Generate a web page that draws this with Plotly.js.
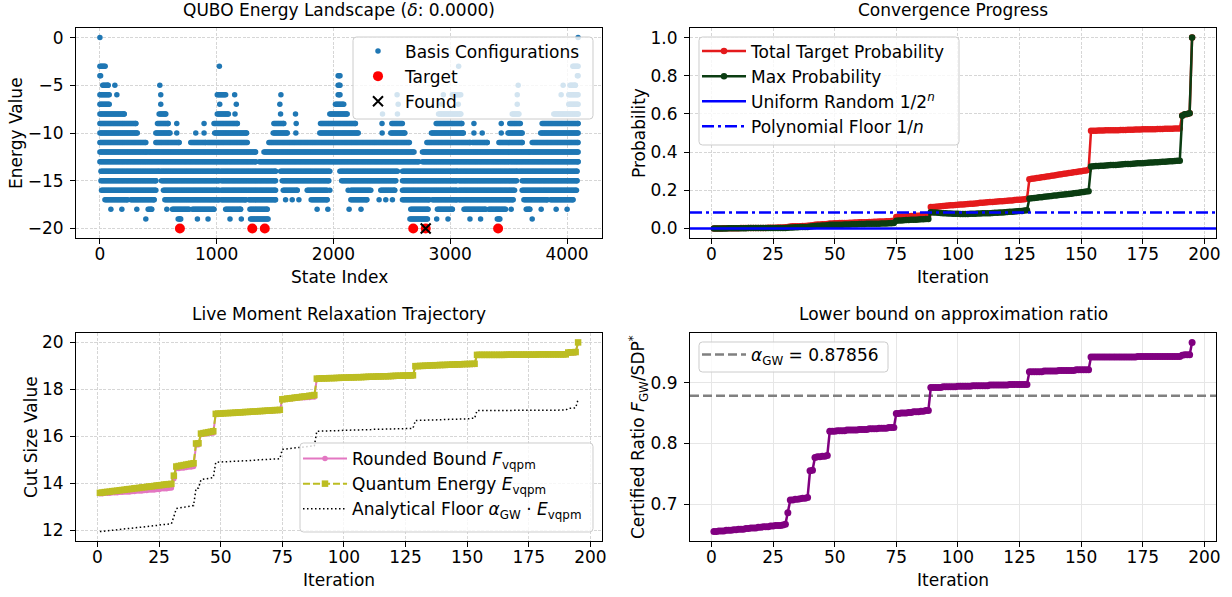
<!DOCTYPE html>
<html><head><meta charset="utf-8">
<script src="https://cdn.plot.ly/plotly-3.0.1.min.js"></script>
<style>html,body{margin:0;padding:0;background:#fff;} #chart{width:1232px;height:597px;}</style>
</head><body><div id="chart"></div>
<script>
// ---------- Panel 1: QUBO energy landscape (index ranges read per energy level) ----------
const lvl0  = [0,0, 4095,4095];
const lvl3  = [0,45, 1023,1023, 3072,3072, 4050,4095];
const lvl4  = [0,6, 2040,2056, 4089,4095];
const lvl5  = [24,70, 128,128, 513,513, 2040,2056, 3582,3582, 3967,3967, 4025,4071];
const lvl6  = [0,80, 145,145, 521,521, 1005,1077, 1154,1154, 1550,1550, 2040,2056, 2545,2545, 2941,2941, 3018,3090, 3574,3574, 3950,3950, 4015,4095];
const lvl7  = [0,80, 521,521, 1026,1026, 1168,1168, 1541,1541, 2017,2088, 2554,2554, 2927,2927, 3069,3069, 3574,3574, 4015,4095];
const lvl8  = [0,208, 507,564, 1005,1100, 1157,1157, 1547,1547, 1675,1675, 1969,2117, 2420,2420, 2548,2548, 2900,3090, 3531,3588, 3887,4095];
const lvl9  = [0,308, 493,584, 658,658, 892,892, 977,1177, 1490,1575, 1681,1681, 1889,2188, 2416,2416, 2500,2590, 2880,3100, 3203,3203, 3437,3437, 3510,3600, 3787,4095];
const lvl10 = [0,320, 479,600, 658,658, 821,821, 892,892, 983,1256, 1484,1604, 1678,1678, 1883,2212, 2417,2417, 2491,2611, 2839,3112, 3203,3203, 3274,3274, 3437,3437, 3495,3616, 3775,4095];
const lvl11 = [0,393, 479,678, 778,906, 920,1262, 1447,2650, 2800,3170, 3190,3317, 3417,3616, 3702,4095];
const lvl12 = [0,400, 413,1333, 1405,2690, 2762,3682, 3695,4095];
const lvl13 = [0,1333, 1365,2730, 2762,4095];
const lvl14 = [9,507, 521,1020, 1034,1504, 1547,1969, 2055,2548, 2591,3061, 3075,3574, 3588,4086];
const lvl15 = [9,479, 527,1020, 1040,1504, 1561,1960, 2070,2534, 2591,3055, 3075,3568, 3616,4086];
const lvl16 = [14,479, 544,1020, 1040,1504, 1570,1690, 1775,1946, 1969,1969, 2126,2126, 2149,2320, 2405,2525, 2591,3055, 3075,3551, 3616,4081];
const lvl17 = [43,236, 265,464, 556,1020, 1040,1248, 1276,1504, 1590,1590, 1647,1647, 1704,1704, 1809,1946, 2149,2286, 2391,2391, 2448,2448, 2505,2505, 2591,2819, 2847,3055, 3075,3539, 3631,3830, 3859,4052];
const lvl18 = [94,94, 188,188, 316,316, 413,444, 573,573, 621,764, 792,977, 1077,1205, 1285,1433, 1860,1860, 1952,1952, 2134,2134, 2236,2236, 2662,2810, 2890,3018, 3118,3303, 3331,3474, 3522,3522, 3651,3682, 3779,3779, 3907,3907, 4001,4001];
const lvl19 = [393,393, 670,692, 835,835, 926,926, 1114,1114, 1211,1211, 1290,1440, 2655,2805, 2884,2884, 2981,2981, 3169,3169, 3260,3260, 3403,3425, 3702,3702];
const energyLevels = [0,-3,-4,-5,-6,-7,-8,-9,-10,-11,-12,-13,-14,-15,-16,-17,-18,-19];
const targetIdx = [685, 1305, 1412, 2683, 2790, 3410];
const targetEnergy = [-20, -20, -20, -20, -20, -20];
const foundIdx = [2790];
const foundEnergy = [-20];

// ---------- Per-iteration series (iterations 1..195) ----------
const certifiedRatio = [
0.655,0.655,0.656,0.656,0.656,0.657,0.657,0.657,0.658,0.658,0.659,0.659,0.659,0.660,0.660,0.661,0.661,0.661,0.662,0.662,0.663,0.663,0.663,0.664,0.664,0.665,0.665,0.665,0.666,0.667,
0.686,
0.707,0.707,0.708,0.708,0.709,0.710,0.710,0.711,
0.755,0.756,
0.777,0.778,0.778,0.779,0.779,0.780,
0.820,0.820,0.820,0.821,0.821,0.821,0.821,0.822,0.822,0.822,0.822,0.822,0.823,0.823,0.823,0.823,0.824,0.824,0.824,0.824,0.825,0.825,0.825,0.825,0.826,0.826,0.826,
0.849,0.849,0.850,0.850,0.850,0.851,0.851,0.852,0.852,0.852,0.853,0.853,0.854,0.854,
0.892,0.892,0.892,0.892,0.892,0.893,0.893,0.893,0.893,0.893,0.893,0.894,0.894,0.894,0.894,0.894,0.894,0.895,0.895,0.895,0.895,0.895,0.895,0.895,0.896,0.896,0.896,0.896,0.896,0.896,0.896,0.896,0.897,0.897,0.897,0.897,0.897,0.897,0.897,0.897,
0.918,0.918,0.918,0.918,0.918,0.918,0.919,0.919,0.919,0.919,0.919,0.919,0.920,0.920,0.920,0.920,0.920,0.920,0.920,0.921,0.921,0.921,0.921,0.921,0.921,
0.942,0.942,0.942,0.942,0.942,0.942,0.942,0.942,0.942,0.942,0.942,0.942,0.942,0.942,0.942,0.942,0.942,0.942,0.942,0.943,0.943,0.943,0.943,0.943,0.943,0.943,0.943,0.943,0.943,0.943,0.943,0.943,0.943,0.943,0.943,0.943,0.943,
0.945,0.946,0.946,0.946,
0.966];

const roundedBound = [
13.56,13.56,13.58,13.58,13.58,13.60,13.60,13.60,13.62,13.62,13.64,13.64,13.64,13.66,13.66,13.68,13.68,13.68,13.70,13.70,13.72,13.72,13.72,13.74,13.74,13.77,13.77,13.77,13.79,13.81,
14.20,
14.63,14.63,14.66,14.66,14.68,14.70,14.70,14.72,
15.63,15.65,
16.08,16.10,16.10,16.13,16.13,16.15,
16.97,16.97,16.97,16.99,16.99,16.99,16.99,17.02,17.02,17.02,17.02,17.02,17.04,17.04,17.04,17.04,17.06,17.06,17.06,17.06,17.08,17.08,17.08,17.08,17.10,17.10,17.10,
17.57,17.57,17.60,17.60,17.60,17.62,17.62,17.64,17.64,17.64,17.66,17.66,17.68,17.68,
18.46,18.46,18.46,18.46,18.46,18.49,18.49,18.49,18.49,18.49,18.49,18.51,18.51,18.51,18.51,18.51,18.51,18.53,18.53,18.53,18.53,18.53,18.53,18.53,18.55,18.55,18.55,18.55,18.55,18.55,18.55,18.55,18.57,18.57,18.57,18.57,18.57,18.57,18.57,18.57,
19.00,19.00,19.00,19.00,19.00,19.00,19.02,19.02,19.02,19.02,19.02,19.02,19.04,19.04,19.04,19.04,19.04,19.04,19.04,19.06,19.06,19.06,19.06,19.06,19.06,
19.47,19.47,19.47,19.47,19.47,19.47,19.47,19.47,19.47,19.47,19.47,19.47,19.47,19.47,19.47,19.47,19.47,19.47,19.47,19.48,19.48,19.48,19.48,19.48,19.48,19.48,19.48,19.48,19.48,19.48,19.48,19.48,19.48,19.48,19.48,19.48,19.48,
19.54,19.55,19.55,19.56,
20.00];

const quantumEnergy = [
13.60,13.61,13.63,13.64,13.65,13.67,13.68,13.69,13.71,13.72,13.73,13.75,13.76,13.77,13.79,13.80,13.81,13.83,13.84,13.85,13.87,13.88,13.89,13.91,13.92,13.93,13.95,13.96,13.97,13.98,
14.33,
14.72,14.74,14.76,14.78,14.80,14.82,14.84,14.86,
15.70,15.71,
16.12,16.14,16.16,16.18,16.20,16.22,
16.96,16.97,16.97,16.98,16.99,16.99,17.00,17.00,17.01,17.02,17.02,17.03,17.04,17.04,17.05,17.06,17.06,17.07,17.08,17.08,17.09,17.10,17.10,17.11,17.12,17.12,17.13,
17.58,17.59,17.61,17.62,17.63,17.65,17.66,17.67,17.69,17.70,17.71,17.73,17.74,17.76,
18.46,18.46,18.47,18.47,18.47,18.48,18.48,18.48,18.49,18.49,18.50,18.50,18.50,18.51,18.51,18.51,18.52,18.52,18.52,18.53,18.53,18.54,18.54,18.54,18.55,18.55,18.55,18.56,18.56,18.56,18.57,18.57,18.58,18.58,18.58,18.59,18.59,18.59,18.60,18.60,
18.99,18.99,19.00,19.00,19.01,19.01,19.02,19.02,19.03,19.03,19.04,19.04,19.04,19.05,19.05,19.06,19.06,19.07,19.07,19.07,19.08,19.08,19.08,19.09,19.09,
19.47,19.47,19.47,19.47,19.47,19.47,19.47,19.47,19.47,19.47,19.47,19.47,19.48,19.48,19.48,19.48,19.48,19.48,19.48,19.48,19.48,19.48,19.48,19.48,19.48,19.49,19.49,19.49,19.49,19.49,19.49,19.49,19.49,19.49,19.49,19.49,19.49,
19.57,19.58,19.58,19.59,
20.00];

const analyticalFloor = [
11.95,11.96,11.97,11.98,11.99,12.00,12.02,12.03,12.04,12.05,12.06,12.07,12.09,12.10,12.11,12.12,12.13,12.14,12.16,12.17,12.18,12.19,12.20,12.21,12.23,12.24,12.25,12.26,12.27,12.28,
12.59,
12.93,12.95,12.97,12.99,13.00,13.02,13.04,13.06,
13.79,13.80,
14.16,14.18,14.20,14.22,14.23,14.25,
14.90,14.91,14.91,14.92,14.92,14.93,14.94,14.94,14.94,14.95,14.96,14.96,14.97,14.97,14.98,14.99,14.99,15.00,15.01,15.01,15.02,15.02,15.03,15.03,15.04,15.04,15.05,
15.45,15.46,15.47,15.48,15.49,15.50,15.51,15.52,15.54,15.55,15.56,15.57,15.58,15.60,
16.22,16.22,16.23,16.23,16.23,16.24,16.24,16.24,16.25,16.25,16.25,16.26,16.26,16.26,16.27,16.27,16.27,16.28,16.28,16.28,16.29,16.29,16.29,16.30,16.30,16.30,16.31,16.31,16.31,16.32,16.32,16.32,16.33,16.33,16.33,16.33,16.34,16.34,16.34,16.34,
16.68,16.68,16.68,16.69,16.69,16.69,16.70,16.70,16.70,16.71,16.71,16.71,16.72,16.72,16.72,16.73,16.73,16.73,16.74,16.74,16.74,16.75,16.75,16.77,16.77,
17.10,17.10,17.10,17.10,17.10,17.10,17.10,17.10,17.10,17.10,17.10,17.10,17.11,17.11,17.11,17.11,17.11,17.11,17.11,17.11,17.11,17.11,17.11,17.11,17.11,17.12,17.12,17.12,17.12,17.12,17.12,17.12,17.12,17.12,17.12,17.12,17.12,
17.19,17.20,17.20,17.21,
17.57];

const totalTargetProb = [
0.000,0.000,0.000,0.000,0.001,0.001,0.001,0.001,0.001,0.001,0.001,0.002,0.002,0.002,0.002,0.002,0.002,0.003,0.003,0.003,0.003,0.003,0.004,0.004,0.004,0.004,0.005,0.005,0.005,0.006,
0.008,
0.010,0.011,0.011,0.012,0.012,0.013,0.013,0.014,
0.016,0.017,
0.020,0.021,0.021,0.022,0.022,0.023,
0.026,0.026,0.027,0.027,0.028,0.028,0.029,0.029,0.030,0.030,0.031,0.031,0.032,0.032,0.033,0.033,0.034,0.034,0.035,0.035,0.036,0.036,0.037,0.038,0.038,0.039,0.040,
0.060,0.061,0.062,0.062,0.063,0.064,0.065,0.065,0.066,0.067,0.068,0.069,0.070,0.071,
0.112,0.113,0.114,0.115,0.116,0.117,0.119,0.120,0.121,0.122,0.123,0.124,0.125,0.126,0.127,0.128,0.129,0.130,0.131,0.132,0.134,0.135,0.136,0.137,0.138,0.139,0.140,0.141,0.142,0.143,0.144,0.145,0.146,0.147,0.149,0.150,0.151,0.152,0.153,0.155,
0.258,0.260,0.262,0.264,0.266,0.268,0.270,0.272,0.274,0.276,0.278,0.280,0.282,0.284,0.286,0.288,0.290,0.292,0.294,0.296,0.298,0.300,0.302,0.304,0.307,
0.512,0.512,0.512,0.513,0.513,0.513,0.514,0.514,0.514,0.515,0.515,0.515,0.516,0.516,0.516,0.517,0.517,0.517,0.518,0.518,0.518,0.519,0.519,0.519,0.520,0.520,0.520,0.521,0.521,0.521,0.522,0.522,0.522,0.522,0.523,0.523,0.523,
0.592,0.597,0.600,0.603,
1.000];

const maxProb = [
0.000,0.000,0.000,0.000,0.000,0.000,0.001,0.001,0.001,0.001,0.001,0.001,0.001,0.001,0.002,0.002,0.002,0.002,0.002,0.002,0.002,0.002,0.003,0.003,0.003,0.003,0.003,0.003,0.003,0.003,
0.004,
0.005,0.005,0.006,0.006,0.007,0.007,0.008,0.008,
0.010,0.011,
0.013,0.014,0.014,0.015,0.016,0.017,
0.019,0.019,0.019,0.020,0.020,0.020,0.021,0.021,0.021,0.022,0.022,0.022,0.023,0.023,0.023,0.024,0.024,0.024,0.025,0.025,0.025,0.026,0.026,0.026,0.027,0.027,0.028,
0.041,0.042,0.042,0.043,0.044,0.044,0.045,0.046,0.046,0.047,0.048,0.048,0.049,0.050,
0.085,0.084,0.083,0.082,0.081,0.080,0.079,0.078,0.078,0.077,0.077,0.077,0.076,0.076,0.076,0.076,0.077,0.077,0.077,0.078,0.078,0.079,0.079,0.080,0.080,0.081,0.082,0.082,0.083,0.084,0.085,0.086,0.087,0.088,0.089,0.090,0.091,0.092,0.094,0.095,
0.157,0.158,0.160,0.161,0.163,0.164,0.166,0.167,0.169,0.170,0.172,0.173,0.175,0.176,0.178,0.179,0.181,0.182,0.184,0.186,0.187,0.189,0.191,0.193,0.195,
0.325,0.326,0.327,0.327,0.328,0.329,0.330,0.331,0.332,0.332,0.333,0.334,0.335,0.336,0.337,0.337,0.338,0.339,0.340,0.341,0.342,0.342,0.343,0.344,0.345,0.346,0.347,0.347,0.348,0.349,0.350,0.351,0.352,0.352,0.353,0.354,0.355,
0.590,0.598,0.600,0.604,
1.000];

const uniformRandom = 1 / 4096;   // 1/2^n, n = 12
const polynomialFloor = 1 / 12;   // 1/n
const alphaGW = 0.87856;

// ---------- build ----------
const FONT = 'DejaVu Sans';
const FS = 17;
const W = 1232, H = 597;
const px = x => x / W, py = y => 1 - y / H;

const levelSegs = [lvl0,lvl3,lvl4,lvl5,lvl6,lvl7,lvl8,lvl9,lvl10,lvl11,lvl12,lvl13,lvl14,lvl15,lvl16,lvl17,lvl18,lvl19];
const STEP = 9;
const bx = [], by = [];
levelSegs.forEach((segs, li) => {
  const e = energyLevels[li];
  for (let k = 0; k < segs.length; k += 2) {
    const a = segs[k], b = segs[k + 1];
    for (let i = a; i <= b; i += STEP) { bx.push(i); by.push(e); }
    if ((b - a) % STEP !== 0) { bx.push(b); by.push(e); }
  }
});

const iters = certifiedRatio.map((_, i) => i + 1);
const xIterRange = [-8.7, 204.7];

const traces = [
  {type:'scatter', mode:'markers', x:bx, y:by, name:'Basis Configurations', legend:'legend',
   marker:{color:'#1f77b4', size:5.5}, xaxis:'x', yaxis:'y', hoverinfo:'skip'},
  {type:'scatter', mode:'markers', x:targetIdx, y:targetEnergy, name:'Target', legend:'legend',
   marker:{color:'#ff0000', size:10}, xaxis:'x', yaxis:'y'},
  {type:'scatter', mode:'markers', x:foundIdx, y:foundEnergy, name:'Found', legend:'legend',
   marker:{symbol:'x-thin', color:'#000', size:10, line:{color:'#000', width:2}}, xaxis:'x', yaxis:'y'},

  {type:'scatter', mode:'lines+markers', x:iters, y:totalTargetProb, name:'Total Target Probability', legend:'legend2',
   line:{color:'#e41a1c', width:2.5}, marker:{color:'#e41a1c', size:6.5}, xaxis:'x2', yaxis:'y2'},
  {type:'scatter', mode:'lines+markers', x:iters, y:maxProb, name:'Max Probability', legend:'legend2',
   line:{color:'#0b3d12', width:2.5}, marker:{color:'#0b3d12', size:6.5}, xaxis:'x2', yaxis:'y2'},
  {type:'scatter', mode:'lines', x:xIterRange, y:[uniformRandom, uniformRandom], name:'Uniform Random 1/2<sup><i>n</i></sup>', legend:'legend2',
   line:{color:'#0000ff', width:2.5}, xaxis:'x2', yaxis:'y2'},
  {type:'scatter', mode:'lines', x:xIterRange, y:[polynomialFloor, polynomialFloor], name:'Polynomial Floor 1/<i>n</i>', legend:'legend2',
   line:{color:'#0000ff', width:2.5, dash:'12px,4px,3px,4px'}, xaxis:'x2', yaxis:'y2'},

  {type:'scatter', mode:'lines+markers', x:iters, y:roundedBound, name:'Rounded Bound <i>F</i><sub>vqpm</sub>', legend:'legend3',
   line:{color:'#e377c2', width:2}, marker:{color:'#e377c2', size:5.5}, xaxis:'x3', yaxis:'y3'},
  {type:'scatter', mode:'lines+markers', x:iters, y:quantumEnergy, name:'Quantum Energy <i>E</i><sub>vqpm</sub>', legend:'legend3',
   line:{color:'#bcbd22', width:2, dash:'7px,3px'}, marker:{color:'#bcbd22', size:6.5, symbol:'square'}, xaxis:'x3', yaxis:'y3'},
  {type:'scatter', mode:'lines', x:iters, y:analyticalFloor, name:'Analytical Floor <i>α</i><sub>GW</sub> · <i>E</i><sub>vqpm</sub>', legend:'legend3',
   line:{color:'#000000', width:1.5, dash:'1.5px,2.5px'}, xaxis:'x3', yaxis:'y3'},

  {type:'scatter', mode:'lines', x:xIterRange, y:[alphaGW, alphaGW], name:'<i>α</i><sub>GW</sub> = 0.87856', legend:'legend4',
   line:{color:'#808080', width:2.5, dash:'9px,4px'}, xaxis:'x4', yaxis:'y4'},
  {type:'scatter', mode:'lines+markers', x:iters, y:certifiedRatio, name:'ratio', showlegend:false,
   line:{color:'#800080', width:2.5}, marker:{color:'#800080', size:7}, xaxis:'x4', yaxis:'y4'}
];

const tickFont = {family:FONT, size:FS, color:'#000'};
function ax(domain, range, extra) {
  return Object.assign({domain, range, autorange:false, showline:true, mirror:true, linecolor:'#000', linewidth:1,
    ticks:'outside', ticklen:5, tickwidth:1, tickcolor:'#000', tickfont:tickFont, zeroline:false,
    showgrid:true, gridcolor:'#d6d6d6', gridwidth:1, griddash:'3px,1.5px', ticklabelstandoff:3}, extra || {});
}
const xL = [px(76), px(602)], xR = [px(690), px(1216)];
const yT = [py(238), py(28)], yB = [py(541), py(333)];
const XT = {ticklabelstandoff:-4};

const legendBase = {bgcolor:'rgba(0,0,0,0)', borderwidth:0, itemwidth:44,
  font:{family:FONT, size:FS, color:'#000'}, xanchor:'left', yanchor:'top', xref:'paper', yref:'paper', tracegroupgap:0};

// rounded legend frames (pixel boxes) drawn as shapes above the data
function frame(x0, y0, x1, y1) {
  const r = 3.5;
  const P = (x, y) => px(x).toFixed(5) + ',' + py(y).toFixed(5);
  const d = 'M' + P(x0 + r, y0) + ' L' + P(x1 - r, y0) + ' Q' + P(x1, y0) + ' ' + P(x1, y0 + r) +
            ' L' + P(x1, y1 - r) + ' Q' + P(x1, y1) + ' ' + P(x1 - r, y1) +
            ' L' + P(x0 + r, y1) + ' Q' + P(x0, y1) + ' ' + P(x0, y1 - r) +
            ' L' + P(x0, y0 + r) + ' Q' + P(x0, y0) + ' ' + P(x0 + r, y0) + ' Z';
  return {type:'path', path:d, xref:'paper', yref:'paper', layer:'above',
    fillcolor:'rgba(255,255,255,0.8)', line:{color:'#cccccc', width:1}};
}

function ann(text, x, y, angle) {
  return {text, x:px(x), y:py(y), xref:'paper', yref:'paper', showarrow:false, xanchor:'center', yanchor:'middle',
    textangle:angle || 0, font:{family:FONT, size:FS, color:'#000'}};
}

const layout = {
  width:W, height:H, margin:{l:0, r:0, t:0, b:0}, paper_bgcolor:'#fff', plot_bgcolor:'#fff',
  font:{family:FONT, size:FS, color:'#000'}, showlegend:true,
  xaxis: ax(xL, [-204.75, 4299.75], Object.assign({anchor:'y', tickvals:[0,1000,2000,3000,4000]}, XT)),
  yaxis: ax(yT, [-21, 1], {anchor:'x', tickvals:[0,-5,-10,-15,-20]}),
  xaxis2: ax(xR, xIterRange, Object.assign({anchor:'y2', dtick:25, tick0:0}, XT)),
  yaxis2: ax(yT, [-0.05, 1.05], {anchor:'x2', tickvals:[0,0.2,0.4,0.6,0.8,1.0], tickformat:'.1f'}),
  xaxis3: ax(xL, xIterRange, Object.assign({anchor:'y3', dtick:25, tick0:0}, XT)),
  yaxis3: ax(yB, [11.55, 20.40], {anchor:'x3', tickvals:[12,14,16,18,20]}),
  xaxis4: ax(xR, xIterRange, Object.assign({anchor:'y4', dtick:25, tick0:0, griddash:'solid', gridcolor:'#e6e6e6'}, XT)),
  yaxis4: ax(yB, [0.6395, 0.9816], {anchor:'x4', tickvals:[0.7,0.8,0.9], tickformat:'.1f', griddash:'solid', gridcolor:'#e6e6e6'}),
  legend:  Object.assign({}, legendBase, {x:px(351), y:py(33.5)}),
  legend2: Object.assign({}, legendBase, {x:px(697), y:py(33.5)}),
  legend3: Object.assign({}, legendBase, {x:px(298), y:py(441)}),
  legend4: Object.assign({}, legendBase, {x:px(697), y:py(337)}),
  shapes: [frame(353, 37, 593, 119), frame(699, 37, 959, 145), frame(300, 443, 593, 532), frame(699, 342, 888, 372)],
  annotations: [
    ann('QUBO Energy Landscape (<i>δ</i>: 0.0000)', 339, 10),
    ann('Convergence Progress', 953, 10),
    ann('Live Moment Relaxation Trajectory', 339, 314),
    ann('Lower bound on approximation ratio', 953, 314),
    ann('State Index', 339, 277),
    ann('Iteration', 953, 277),
    ann('Iteration', 339, 580),
    ann('Iteration', 953, 580),
    ann('Energy Value', 16, 133, -90),
    ann('Probability', 639, 133, -90),
    ann('Cut Size Value', 31, 437, -90),
    ann('Certified Ratio <i>F</i><sub>GW</sub>/SDP<sup>*</sup>', 638, 437, -90)
  ]
};

Plotly.newPlot('chart', traces, layout, {displayModeBar:false, staticPlot:true});
</script></body></html>
